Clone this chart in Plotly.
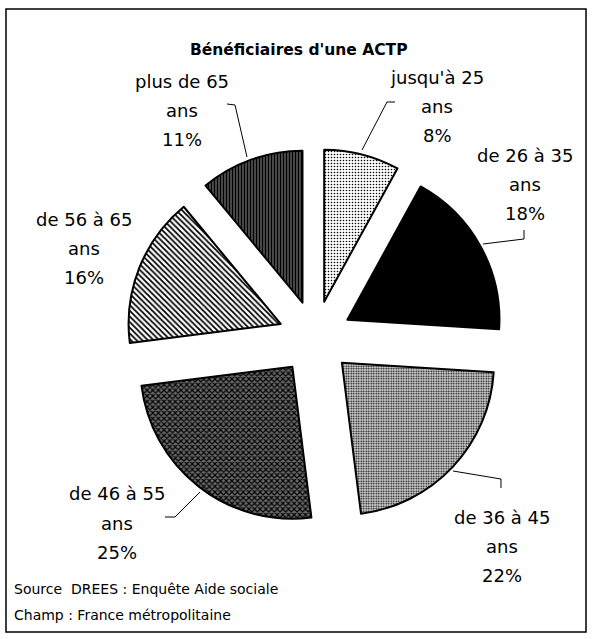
import plotly.graph_objects as go

# ---- data ----
categories = ["jusqu'à 25 ans", "de 26 à 35 ans", "de 36 à 45 ans",
              "de 46 à 55 ans", "de 56 à 65 ans", "plus de 65 ans"]
values = [8, 18, 22, 25, 16, 11]
title_text = "Bénéficiaires d'une ACTP"
source_lines = ["Source  DREES : Enquête Aide sociale",
                "Champ : France métropolitaine"]

# ---- styling ----
W, H = 592, 639
FONT = "DejaVu Sans, sans-serif"

def px(x):
    return x / W

def py(y):
    return 1 - y / H

pat_shapes = [".", "", ".", "x", "\\", "|"]
pat_fg = ["black", "black", "black", "black", "black", "black"]
pat_bg = ["white", "black", "#dddddd", "#6a6a6a", "white", "#555555"]
pat_size = [3, 3, 2.5, 4, 4, 3]
pat_sol = [0.22, 0.5, 0.4, 0.5, 0.45, 0.45]

# label block centres (pixels) and leader lines (pixels)
label_pos = [(437, 78), (525, 156), (502, 517), (117, 494), (84, 219), (182, 81)]
line_step = 29
leaders = [
    [(395, 102), (387, 102), (362, 150)],
    [(524, 230), (524, 239), (483, 244)],
    [(501, 488), (501, 479), (453, 471)],
    [(165, 517), (175, 517), (200, 492)],
    None,
    [(227, 104), (235, 105), (247, 157)],
]

cx, cy, half = 315, 337.5, 189

fig = go.Figure(go.Pie(
    labels=categories,
    values=values,
    sort=False,
    direction="clockwise",
    rotation=0,
    pull=[0.243] * len(values),
    textinfo="none",
    hoverinfo="label+percent",
    marker=dict(colors=pat_bg,
                line=dict(color="black", width=2),
                pattern=dict(shape=pat_shapes, fgcolor=pat_fg, bgcolor=pat_bg,
                             size=pat_size, solidity=pat_sol, fillmode="replace")),
    domain=dict(x=[px(cx - half), px(cx + half)],
                y=[py(cy + half), py(cy - half)]),
    showlegend=False,
))

annotations = []
for cat, val, (lx, ly) in zip(categories, values, label_pos):
    first, last = cat.rsplit(" ", 1)
    for i, t in enumerate([first, last, f"{val}%"]):
        annotations.append(dict(
            x=px(lx), y=py(ly + i * line_step), xref="paper", yref="paper",
            text=t, showarrow=False, xanchor="center", yanchor="middle",
            font=dict(family=FONT, size=18, color="black")))

annotations.append(dict(
    x=px(299), y=py(50), xref="paper", yref="paper", text=f"<b>{title_text}</b>",
    showarrow=False, xanchor="center", yanchor="middle",
    font=dict(family=FONT, size=15.5, color="black")))

for i, s in enumerate(source_lines):
    annotations.append(dict(
        x=px(12), y=py(589 + i * 26), xref="paper", yref="paper", text=s,
        showarrow=False, xanchor="left", yanchor="middle",
        font=dict(family=FONT, size=14, color="black")))

shapes = [dict(type="rect", xref="paper", yref="paper",
               x0=px(6), x1=px(586), y0=py(632), y1=py(9),
               line=dict(color="black", width=1.5))]
for pts in leaders:
    if not pts:
        continue
    path = "M " + " L ".join(f"{px(x):.5f} {py(y):.5f}" for x, y in pts)
    shapes.append(dict(type="path", xref="paper", yref="paper", path=path,
                       line=dict(color="black", width=1)))

fig.update_layout(
    width=W, height=H,
    margin=dict(l=0, r=0, t=0, b=0),
    paper_bgcolor="white", plot_bgcolor="white",
    annotations=annotations, shapes=shapes,
)

fig.write_html("out.html",
               config={"displayModeBar": False},
               post_script="document.body.style.margin='0';document.body.style.overflow='hidden';")
